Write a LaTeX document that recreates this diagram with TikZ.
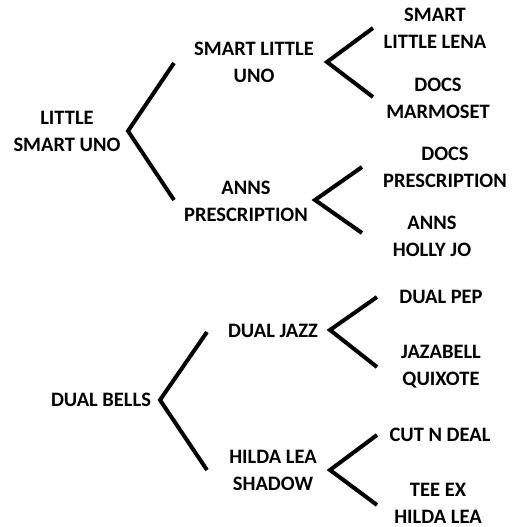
\documentclass[tikz,border=0pt]{standalone}
\usepackage{fontspec}
\setmainfont{Carlito}
\begin{document}
\begin{tikzpicture}[x=1pt,y=-1pt,
  horse/.style={font=\bfseries\fontsize{20.5}{27}\selectfont, align=center, inner sep=0pt},
  fork/.style={line width=4pt, line join=miter}]
\useasboundingbox (0,0) rectangle (514,527);
% first family
\node (lsu) [horse] at (67,131) {LITTLE\\SMART UNO};
\node (slu) [horse] at (254,62) {SMART LITTLE\\UNO};
\node (sll) [horse] at (435,28) {SMART\\LITTLE LENA};
\node (dm) [horse] at (438,98) {DOCS\\MARMOSET};
\node (ap) [horse] at (246,201) {ANNS\\PRESCRIPTION};
\node (dp) [horse] at (445,167) {DOCS\\PRESCRIPTION};
\node (ahj) [horse] at (432,236) {ANNS\\HOLLY JO};
% second family
\node (db) [horse] at (101,400) {DUAL BELLS};
\node (dj) [horse] at (273,331) {DUAL JAZZ};
\node (hls) [horse] at (273,470) {HILDA LEA\\SHADOW};
\node (dpep) [horse] at (441,297) {DUAL PEP};
\node (jq) [horse] at (441,367) {JAZABELL\\QUIXOTE};
\node (cnd) [horse] at (440,435) {CUT N DEAL};
\node (tehl) [horse] at (438,503) {TEE EX\\HILDA LEA};
% forks
\coordinate (lsu v) at (128,131);
\coordinate (lsu a) at (174,63);
\coordinate (lsu b) at (174,200);
\coordinate (slu v) at (327,62);
\coordinate (slu a) at (373,28);
\coordinate (slu b) at (373,97);
\coordinate (ap v) at (315,200);
\coordinate (ap a) at (362,167);
\coordinate (ap b) at (362,233);
\coordinate (db v) at (160,400);
\coordinate (db a) at (207,332);
\coordinate (db b) at (207,470);
\coordinate (dj v) at (330,330);
\coordinate (dj a) at (377,297);
\coordinate (dj b) at (377,367);
\coordinate (hls v) at (330,470);
\coordinate (hls a) at (377,435);
\coordinate (hls b) at (377,505);
\draw[fork] (lsu a) -- (lsu v) -- (lsu b);
\draw[fork] (slu a) -- (slu v) -- (slu b);
\draw[fork] (ap a) -- (ap v) -- (ap b);
\draw[fork] (db a) -- (db v) -- (db b);
\draw[fork] (dj a) -- (dj v) -- (dj b);
\draw[fork] (hls a) -- (hls v) -- (hls b);
\end{tikzpicture}
\end{document}
